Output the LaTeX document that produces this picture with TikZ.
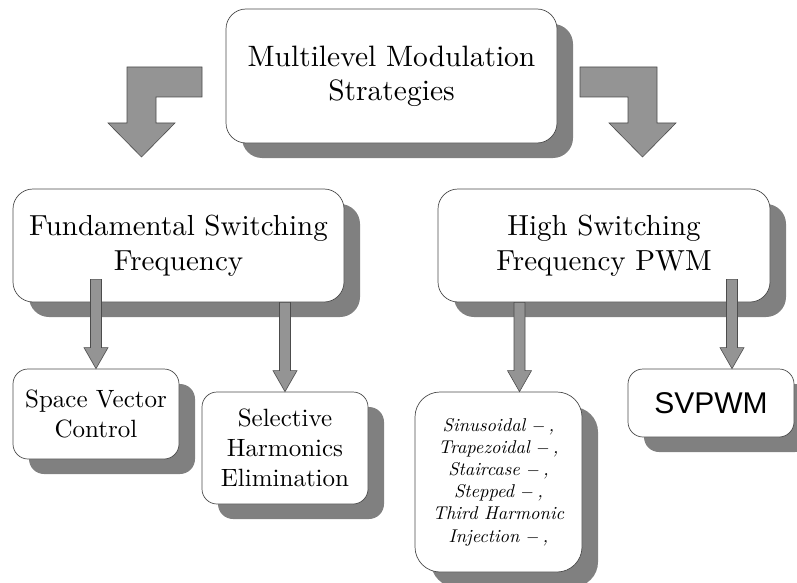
\documentclass[tikz,border=0pt]{standalone}
\usepackage{fontspec}
\setmainfont{lmroman10}[Extension=.otf,UprightFont=*-regular,ItalicFont=*-italic,BoldFont=*-bold]
\newfontfamily\arialfont{Liberation Sans}
\usetikzlibrary{calc,shadows}

\newcommand{\fatarrow}[2]{%
  \draw[arrow box] ($(#1)+(-5.5,0)$) -- ($(#2)+(-5.5,-21)$) -- ($(#2)+(-12,-21)$) -- (#2)
    -- ($(#2)+(12,-21)$) -- ($(#2)+(5.5,-21)$) -- ($(#1)+(5.5,0)$) -- cycle;}

\begin{document}
\begin{tikzpicture}[x=1pt,y=-1pt,
  main box/.style={draw=black!70,line width=0.7pt,fill=white,rounded corners=20pt,align=center,inner sep=0pt,
    drop shadow={shadow xshift=16pt,shadow yshift=-15pt,opacity=1,fill=black!50}},
  arrow box/.style={draw=black!70,line width=0.6pt,fill=black!42}]

            \useasboundingbox (0,0) rectangle (797,583);

            \node[main box, minimum width=331pt, minimum height=134pt, font=\fontsize{29.5}{34}\selectfont] (mms) at (391.5,76) {Multilevel Modulation\\Strategies};
            \node[main box, minimum width=331pt, minimum height=113pt, font=\fontsize{29}{35}\selectfont] (fund) at (178.5,245.5) {Fundamental Switching\\Frequency};
            \node[main box, minimum width=332pt, minimum height=113pt, font=\fontsize{29}{35}\selectfont] (high) at (604,245.5) {High Switching\\Frequency PWM};
            \node[main box, rounded corners=15pt, minimum width=166pt, minimum height=90pt, font=\fontsize{25}{30}\selectfont] (svc) at (96,414) {Space Vector\\Control};
            \node[main box, rounded corners=15pt, minimum width=166pt, minimum height=112pt, font=\fontsize{25}{30}\selectfont] (she) at (285,448) {Selective\\Harmonics\\Elimination};
            \node[main box, rounded corners=25pt, minimum width=167pt, minimum height=180pt, font=\fontsize{18.5}{22.2}\selectfont\itshape] (spwm) at (498.5,482) {Sinusoidal $-$\,,\\Trapezoidal $-$\,,\\Staircase $-$\,,\\Stepped $-$\,,\\Third Harmonic\\Injection $-$\,,};
            \node[main box, rounded corners=15pt, minimum width=166pt, minimum height=68pt, font=\arialfont\fontsize{30}{34}\selectfont] (svpwm) at (711,403) {SVPWM};

            \draw[arrow box] (127,67) -- (202,67) -- (202,97) -- (156,97) -- (156,123) -- (175,123)
                -- (141.5,157) -- (108,123) -- (127,123) -- cycle;
            \draw[arrow box] (580,67) -- (657,67) -- (657,123) -- (676,123) -- (642.5,157)
                -- (609,123) -- (628,123) -- (628,97) -- (580,97) -- cycle;

            \coordinate (t1) at (svc.north);
            \coordinate (s1) at ($(t1 |- fund.south)+(0,-23)$);
            \coordinate (t2) at (she.north);
            \coordinate (s2) at (t2 |- fund.south);
            \coordinate (t3) at ($(spwm.north)+(21,0)$);
            \coordinate (s3) at (t3 |- high.south);
            \coordinate (t4) at ($(svpwm.north)+(21,0)$);
            \coordinate (s4) at ($(t4 |- high.south)+(0,-23)$);

            \fatarrow{s1}{t1}
            \fatarrow{s2}{t2}
            \fatarrow{s3}{t3}
            \fatarrow{s4}{t4}

        \end{tikzpicture}
\end{document}
